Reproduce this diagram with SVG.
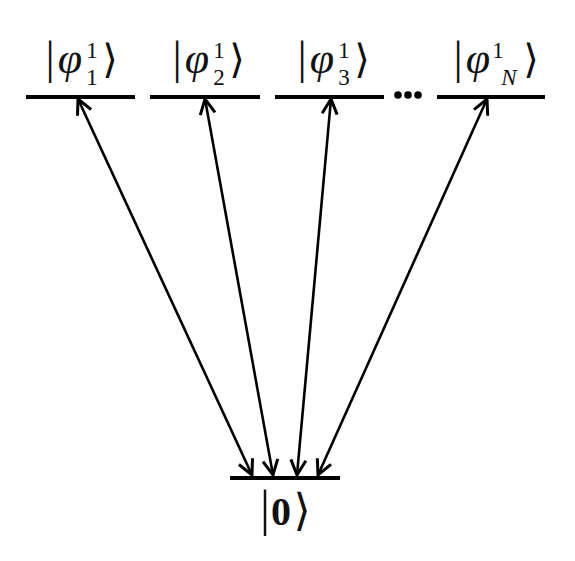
<svg xmlns="http://www.w3.org/2000/svg" width="575" height="561" viewBox="0 0 575 561">
<defs>
<marker id="ah" markerUnits="userSpaceOnUse" viewBox="-17 -10 19 20" refX="0" refY="0" markerWidth="19" markerHeight="20" orient="auto-start-reverse">
<path d="M-15,-7.5 L0,0 L-15,7.5" fill="none" stroke="#000" stroke-width="3" stroke-linejoin="miter"/>
</marker>
<style>
text{text-anchor:middle;fill:#111}
.lvl{stroke:#000;stroke-width:4;fill:none}
.m{font-family:"Liberation Serif","DejaVu Serif",serif;font-size:44px;font-style:italic}
.s{font-family:"Liberation Serif","DejaVu Serif",serif;font-size:23px}
.i{font-style:italic}
.b{font-family:"Liberation Serif","DejaVu Serif",serif;font-size:40px;font-weight:bold}
.br{font-family:"Liberation Serif","DejaVu Serif",serif;font-size:46px}
.ket{font-family:"DejaVu Sans","DejaVu Serif",sans-serif;font-weight:200;font-size:40px}
.br2{font-family:"Liberation Serif","DejaVu Serif",serif;font-size:50px}
.ket2{font-family:"DejaVu Sans","DejaVu Serif",sans-serif;font-weight:200;font-size:44px}
.arr{stroke:#000;stroke-width:2.6;fill:none;marker-start:url(#ah);marker-end:url(#ah)}
</style>
</defs>
<rect width="575" height="561" fill="#fff"/>
<g id="level1">
<line class="lvl" x1="26" y1="97" x2="135" y2="97"/>
<text class="br" x="50" y="73">|</text>
<text class="m" x="70" y="73">φ</text>
<text class="s" x="92" y="58">1</text>
<text class="s" x="92" y="85">1</text>
<text class="ket" x="110" y="73">⟩</text>
</g>
<g id="level2">
<line class="lvl" x1="150" y1="97" x2="260" y2="97"/>
<text class="br" x="177" y="73">|</text>
<text class="m" x="197" y="73">φ</text>
<text class="s" x="219" y="58">1</text>
<text class="s" x="219" y="85">2</text>
<text class="ket" x="237" y="73">⟩</text>
</g>
<g id="level3">
<line class="lvl" x1="275" y1="97" x2="384" y2="97"/>
<text class="br" x="302" y="73">|</text>
<text class="m" x="322" y="73">φ</text>
<text class="s" x="344" y="58">1</text>
<text class="s" x="344" y="85">3</text>
<text class="ket" x="362" y="73">⟩</text>
</g>
<g id="dots">
<circle cx="398" cy="95" r="3.8" fill="#000"/>
<circle cx="408" cy="95" r="3.8" fill="#000"/>
<circle cx="418" cy="95" r="3.8" fill="#000"/>
</g>
<g id="levelN">
<line class="lvl" x1="437" y1="97" x2="545" y2="97"/>
<text class="br" x="458" y="73">|</text>
<text class="m" x="478" y="73">φ</text>
<text class="s" x="498" y="58">1</text>
<text class="s i" x="509" y="85">N</text>
<text class="ket" x="531" y="73">⟩</text>
</g>
<g id="ground">
<line class="lvl" x1="230" y1="478" x2="340" y2="478"/>
<text class="br2" x="265" y="525">|</text>
<text class="b" x="281" y="525">0</text>
<text class="ket2" x="302" y="525">⟩</text>
</g>
<g id="connectors">
<line class="arr" x1="78" y1="99" x2="252" y2="475"/>
<line class="arr" x1="205" y1="99" x2="273" y2="475"/>
<line class="arr" x1="331" y1="99" x2="297" y2="475"/>
<line class="arr" x1="487" y1="99" x2="318" y2="475"/>
</g>
</svg>
